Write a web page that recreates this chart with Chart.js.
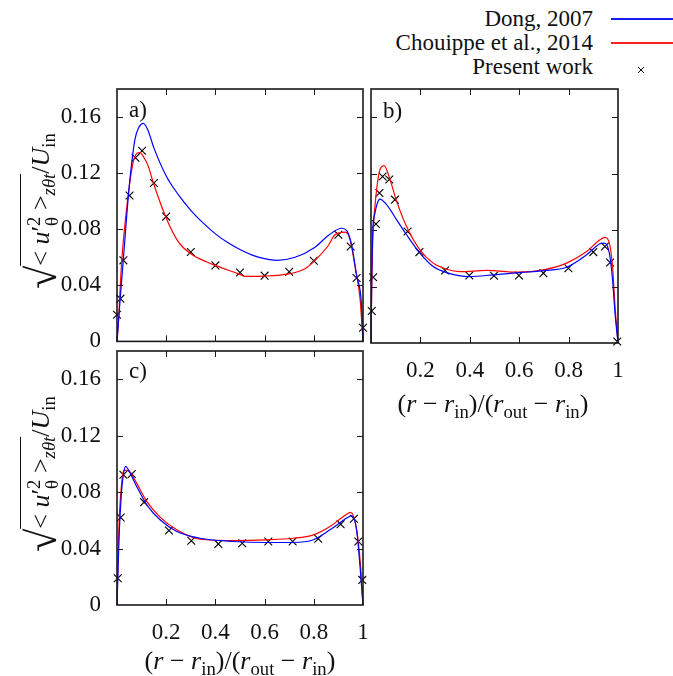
<!DOCTYPE html>
<html>
<head>
<meta charset="utf-8">
<script src="https://cdn.jsdelivr.net/npm/chart.js@4.4.1/dist/chart.umd.min.js"></script>
<style>
  body { margin: 0; background: #fff; width: 673px; height: 676px; position: relative; overflow: hidden;
         font-family: "Liberation Serif", "DejaVu Serif", serif; color: #111; }
  canvas { position: absolute; }
  .txt { position: absolute; font-size: 23px; line-height: 1; white-space: nowrap; }
  .ttl { position: absolute; font-size: 26px; line-height: 1; white-space: nowrap; transform: translate(-50%, -50%); }
  .ytl { font-size: 26px; transform: translate(-50%, -50%) rotate(-90deg); }
  .ttl sub, .ttl sup { font-size: 0.72em; line-height: 0; }
  .ov { border-top: 1.4px solid #111; padding-top: 5px; }
  .rad { font-size: 42px; vertical-align: -7px; }
  .ss { display: inline-block; vertical-align: middle; font-size: 0.72em; line-height: 0.95; text-align: left; }
  .key { position: absolute; left: 611px; width: 62px; height: 2px; }
</style>
</head>
<body>

<canvas id="pa" width="372" height="268" style="left:0;top:80px"></canvas>
<canvas id="pb" width="264" height="310" style="left:362px;top:80px"></canvas>
<canvas id="pc" width="372" height="310" style="left:0;top:342px"></canvas>

<!-- legend -->
<div class="txt" style="right:80px;top:7px">Dong, 2007</div>
<div class="txt" style="right:80px;top:31px">Chouippe et al., 2014</div>
<div class="txt" style="right:80px;top:55px">Present work</div>
<div class="key" style="top:18px;background:#1a1aff"></div>
<div class="key" style="top:42px;background:#ff2020"></div>
<svg style="position:absolute;left:605px;top:10px" width="68" height="70">
  <path d="M33 57 L39 63 M39 57 L33 63" stroke="#000" stroke-width="1"/>
</svg>

<!-- panel tags -->
<div class="txt" style="left:129px;top:98px">a)</div>
<div class="txt" style="left:383px;top:99px">b)</div>
<div class="txt" style="left:129px;top:359px">c)</div>

<!-- axis titles -->
<div class="ttl ytl" style="left:42px;top:211px"><span class="rad">√</span><span class="ov">&lt; <i>u</i>′<span class="ss">2<br>θ</span> &gt;<sub><i>zθt</i></sub></span>/<i>U</i><sub>in</sub></div>
<div class="ttl ytl" style="left:42px;top:474px"><span class="rad">√</span><span class="ov">&lt; <i>u</i>′<span class="ss">2<br>θ</span> &gt;<sub><i>zθt</i></sub></span>/<i>U</i><sub>in</sub></div>
<div class="ttl" style="left:493px;top:404px">(<i>r</i> − <i>r</i><sub>in</sub>)/(<i>r</i><sub>out</sub> − <i>r</i><sub>in</sub>)</div>
<div class="ttl" style="left:240px;top:661px">(<i>r</i> − <i>r</i><sub>in</sub>)/(<i>r</i><sub>out</sub> − <i>r</i><sub>in</sub>)</div>

<script>
// ── data ─────────────────────────────────────────────────────
// panel a
const aDongX  = [0, 0.006, 0.013, 0.026, 0.05, 0.073, 0.09, 0.107, 0.125, 0.15, 0.2, 0.25, 0.3, 0.35, 0.4, 0.45, 0.5, 0.55, 0.6, 0.65, 0.724, 0.805, 0.859, 0.913, 0.934, 0.954, 0.974, 0.994, 1];
const aDongY  = [0, 0.014, 0.0305, 0.059, 0.111, 0.144, 0.153, 0.1555, 0.151, 0.138, 0.118, 0.1045, 0.0935, 0.0845, 0.0767, 0.0705, 0.0655, 0.0615, 0.059, 0.0578, 0.060, 0.0672, 0.0755, 0.0807, 0.079, 0.0684, 0.047, 0.026, 0];
const aChouX  = [0, 0.005, 0.019, 0.039, 0.066, 0.093, 0.11, 0.127, 0.148, 0.2, 0.25, 0.3, 0.365, 0.398, 0.493, 0.52, 0.602, 0.703, 0.764, 0.805, 0.859, 0.886, 0.927, 0.947, 0.967, 0.988, 1];
const aChouY  = [0, 0.0116, 0.0566, 0.0945, 0.128, 0.1347, 0.131, 0.125, 0.113, 0.088, 0.0708, 0.0625, 0.0566, 0.0542, 0.0483, 0.0464, 0.0466, 0.0483, 0.0518, 0.0578, 0.0684, 0.076, 0.0779, 0.073, 0.054, 0.0305, 0];
const aWorkX  = [0, 0.014, 0.026, 0.051, 0.075, 0.102, 0.15, 0.2, 0.3, 0.4, 0.5, 0.6, 0.7, 0.8, 0.9, 0.95, 0.974, 1.0];
const aWorkY  = [0.019, 0.0305, 0.0578, 0.104, 0.131, 0.136, 0.113, 0.089, 0.0637, 0.0542, 0.0492, 0.0469, 0.0497, 0.0575, 0.076, 0.0677, 0.0452, 0.0097];

// panel b
const bDongX  = [0, 0.003, 0.007, 0.016, 0.026, 0.036, 0.063, 0.104, 0.144, 0.198, 0.252, 0.306, 0.40, 0.495, 0.603, 0.698, 0.792, 0.873, 0.927, 0.945, 0.965, 0.978, 0.988, 1];
const bDongY  = [0, 0.045, 0.078, 0.092, 0.0992, 0.102, 0.098, 0.0873, 0.0767, 0.0637, 0.0542, 0.0499, 0.0471, 0.0483, 0.0499, 0.0513, 0.0537, 0.0625, 0.0703, 0.0708, 0.0637, 0.0447, 0.021, 0];
const bChouX  = [0, 0.003, 0.007, 0.016, 0.03, 0.039, 0.053, 0.077, 0.104, 0.144, 0.198, 0.252, 0.306, 0.36, 0.468, 0.59, 0.698, 0.792, 0.873, 0.927, 0.947, 0.965, 0.978, 0.988, 1];
const bChouY  = [0, 0.04, 0.073, 0.0968, 0.118, 0.124, 0.1257, 0.1158, 0.1004, 0.0826, 0.066, 0.0566, 0.0523, 0.0506, 0.0514, 0.0502, 0.0518, 0.0566, 0.0648, 0.0731, 0.0748, 0.0708, 0.054, 0.0258, 0];
const bWorkX  = [0.003, 0.009, 0.02, 0.034, 0.047, 0.074, 0.097, 0.148, 0.196, 0.3, 0.398, 0.498, 0.599, 0.698, 0.799, 0.9, 0.947, 0.968, 0.997];
const bWorkY  = [0.0227, 0.0466, 0.0843, 0.1063, 0.118, 0.1158, 0.1016, 0.079, 0.0644, 0.0514, 0.0478, 0.0476, 0.0478, 0.0495, 0.053, 0.0644, 0.0684, 0.057, 0.001];

// panel c
const cDongX  = [0, 0.008, 0.019, 0.027, 0.035, 0.053, 0.08, 0.121, 0.175, 0.243, 0.337, 0.473, 0.608, 0.717, 0.798, 0.866, 0.934, 0.954, 0.974, 0.988, 1];
const cDongY  = [0, 0.046, 0.0817, 0.0935, 0.0982, 0.0935, 0.084, 0.071, 0.0604, 0.0521, 0.0473, 0.045, 0.0443, 0.0443, 0.0462, 0.0533, 0.0616, 0.0634, 0.0533, 0.0272, 0];
const cChouX  = [0, 0.008, 0.019, 0.028, 0.046, 0.06, 0.08, 0.121, 0.175, 0.243, 0.337, 0.473, 0.608, 0.717, 0.798, 0.866, 0.92, 0.95, 0.972, 0.988, 1];
const cChouY  = [0, 0.0556, 0.0864, 0.0954, 0.0954, 0.0923, 0.0864, 0.0734, 0.0623, 0.0533, 0.0466, 0.0457, 0.0462, 0.0473, 0.0497, 0.0556, 0.0627, 0.0656, 0.0556, 0.032, 0];
const cWorkX  = [0.003, 0.015, 0.026, 0.06, 0.11, 0.211, 0.302, 0.412, 0.509, 0.615, 0.714, 0.818, 0.909, 0.963, 0.981, 0.997];
const cWorkY  = [0.019, 0.062, 0.0923, 0.0928, 0.0729, 0.0528, 0.0455, 0.0433, 0.0438, 0.045, 0.045, 0.0469, 0.0573, 0.0611, 0.045, 0.0178];

const yTicks = [0, 0.04, 0.08, 0.12, 0.16];
const xTicks = [0.2, 0.4, 0.6, 0.8, 1];

const BLUE = "#0000ff";
const RED  = "#ff0000";
const FONT = { family: "'Liberation Serif', 'DejaVu Serif', serif", size: 23 };

const zip = (xs, ys) => xs.map((x, i) => ({ x, y: ys[i] }));

// gnuplot-like box with inward ticks on all four sides
const framePlugin = {
    id: "frame",
    afterDatasetsDraw(chart) {
        const { ctx, chartArea: a, scales: { x, y } } = chart;
        ctx.save();
        ctx.strokeStyle = "#1a1a1a";
        ctx.lineWidth = 1;
        ctx.beginPath();
        x.ticks.forEach(t => {
            if (t.value <= 0 || t.value >= 1) return;
            const px = Math.round(x.getPixelForValue(t.value)) + 0.5;
            ctx.moveTo(px, a.bottom); ctx.lineTo(px, a.bottom - 6);
            ctx.moveTo(px, a.top);    ctx.lineTo(px, a.top + 6);
        });
        y.ticks.forEach(t => {
            if (t.value <= 0) return;
            const py = Math.round(y.getPixelForValue(t.value)) + 0.5;
            ctx.moveTo(a.left, py);  ctx.lineTo(a.left + 6, py);
            ctx.moveTo(a.right, py); ctx.lineTo(a.right - 6, py);
        });
        ctx.stroke();
        ctx.lineWidth = 1.6;
        ctx.strokeRect(a.left, a.top, a.right - a.left, a.bottom - a.top);
        ctx.restore();
    }
};

// fixed axis sizes, no automatic label overhang padding
const fixSize = (s, w, h) => {
    if (w !== null) s.width = w;
    if (h !== null) s.height = h;
    s.paddingTop = s.paddingBottom = s.paddingLeft = s.paddingRight = 0;
};

function makePanel(id, dong, chou, work, o) {
    const line = (label, pts, color) => ({
        label, data: pts, showLine: true, borderColor: color, borderWidth: 1.2,
        pointRadius: 0, cubicInterpolationMode: "monotone", clip: false
    });
    new Chart(document.getElementById(id), {
        type: "scatter",
        data: {
            datasets: [
                line("Dong, 2007", dong, BLUE),
                line("Chouippe et al., 2014", chou, RED),
                {
                    label: "Present work", data: work, showLine: false,
                    pointStyle: "crossRot", pointRadius: 5.5, borderColor: "#000",
                    borderWidth: 1.1, backgroundColor: "#000", clip: false
                }
            ]
        },
        options: {
            responsive: false,
            animation: false,
            layout: { padding: o.padding },
            plugins: { legend: { display: false }, tooltip: { enabled: false } },
            scales: {
                x: {
                    type: "linear", min: 0, max: 1,
                    grid: { display: false }, border: { display: false },
                    ticks: {
                        display: o.xLabels, stepSize: 0.2, includeBounds: false,
                        font: FONT, color: "#111", padding: 6, maxRotation: 0,
                        callback: v => (xTicks.includes(+v.toFixed(1)) ? (v === 1 ? "1" : v.toFixed(1)) : "")
                    },
                    afterFit: s => fixSize(s, null, o.xHeight)
                },
                y: {
                    type: "linear", min: 0, max: 0.18,
                    grid: { display: false }, border: { display: false },
                    ticks: {
                        display: o.yLabels, stepSize: 0.04, includeBounds: false,
                        font: FONT, color: "#111", padding: 8,
                        callback: v => {
                            const r = +v.toFixed(2);
                            if (!yTicks.includes(r)) return "";
                            return r === 0 ? "0" : r.toFixed(2);
                        }
                    },
                    afterFit: s => fixSize(s, o.yWidth, null)
                }
            }
        },
        plugins: [framePlugin]
    });
}

makePanel("pa", zip(aDongX, aDongY), zip(aChouX, aChouY), zip(aWorkX, aWorkY),
    { padding: { top: 9, right: 9, bottom: 5, left: 0 }, xLabels: false, yLabels: true, xHeight: 0, yWidth: 117 });
makePanel("pb", zip(bDongX, bDongY), zip(bChouX, bChouY), zip(bWorkX, bWorkY),
    { padding: { top: 9, right: 8, bottom: 0, left: 9 }, xLabels: true, yLabels: false, xHeight: 47, yWidth: 0 });
makePanel("pc", zip(cDongX, cDongY), zip(cChouX, cChouY), zip(cWorkX, cWorkY),
    { padding: { top: 9, right: 9, bottom: 0, left: 0 }, xLabels: true, yLabels: true, xHeight: 47, yWidth: 117 });
</script>
</body>
</html>
